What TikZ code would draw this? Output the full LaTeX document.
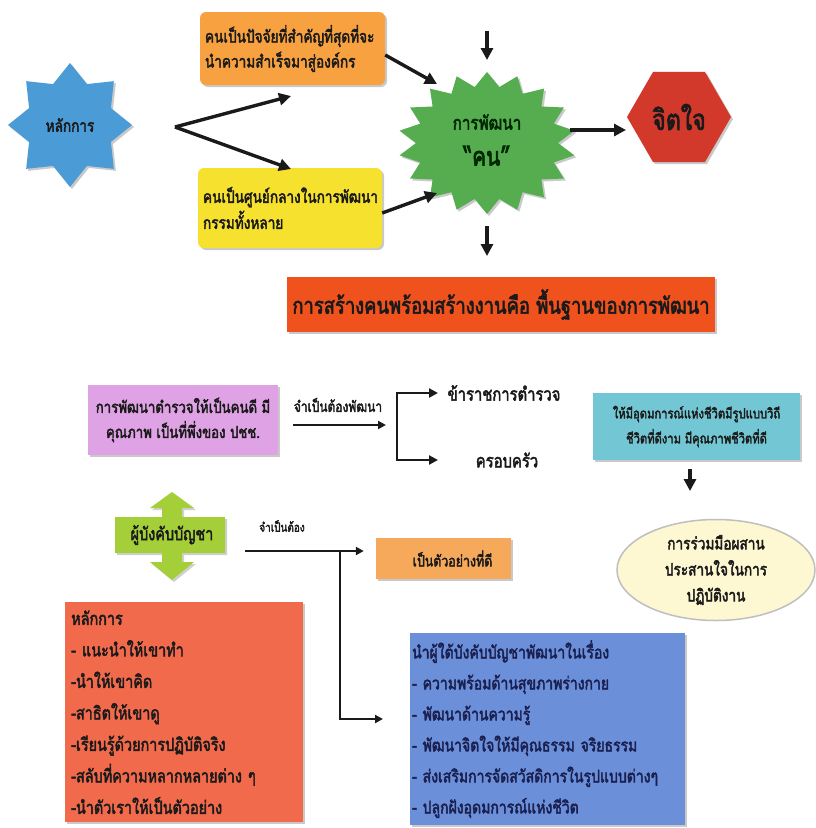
\documentclass[tikz,border=0pt]{standalone}
\usepackage{fontspec}
\setmainfont[Script=Thai,FakeStretch=0.8,BoldFont=*,BoldFeatures={FakeBold=2.5}]{Loma}
\usetikzlibrary{shapes.geometric,shadows,arrows.meta,calc}
\definecolor{cBlueStar}{HTML}{4B9BD6}
\definecolor{cOrange}{HTML}{F7A141}
\definecolor{cYellow}{HTML}{F6E12F}
\definecolor{cGreenStar}{HTML}{55AD4F}
\definecolor{cHex}{HTML}{D2392B}
\definecolor{cBar}{HTML}{F0521E}
\definecolor{cPurple}{HTML}{DFA2E4}
\definecolor{cCyan}{HTML}{73C6D3}
\definecolor{cCream}{HTML}{FDF8D2}
\definecolor{cLime}{HTML}{A5CF38}
\definecolor{cOrange2}{HTML}{F6A95B}
\definecolor{cRed}{HTML}{F26A4C}
\definecolor{cBlue}{HTML}{6B8FD9}
\definecolor{cInk}{HTML}{1A1A1A}
\definecolor{cNavy}{HTML}{1A2050}
\newcommand{\fsz}[2]{\fontsize{#1}{#2}\selectfont}
\begin{document}
\begin{tikzpicture}[x=1pt,y=-1pt,
  every node/.style={font=\bfseries, text=cInk},
  arr/.style={-{Triangle[length=12pt,width=12pt]}, line width=3.4pt, draw=cInk},
  arrs/.style={-{Triangle[length=8pt,width=8pt]}, line width=2.2pt, draw=cInk},
  shadowed/.style={drop shadow={shadow xshift=2pt,shadow yshift=-2pt,opacity=.35,fill=black!60}},
  rbox/.style={rectangle, rounded corners=6pt, shadowed, inner sep=5pt, align=left},
  sbox/.style={rectangle, shadowed, inner sep=4pt},
]
\useasboundingbox[fill=white] (0,0) rectangle (815,828);

% ---------- top part ----------
\node[star, star points=8, star point ratio=1.4, minimum size=124pt, fill=cBlueStar, shadowed,
      font=\bfseries\fsz{17}{20}] (bstar) at (70,125) {หลักการ};

\node[rbox, fill=cOrange, minimum width=185pt, minimum height=73pt, text width=175pt,
      font=\bfseries\fsz{17}{25}] (orange) at (292.5,48.5)
      {คนเป็นปัจจัยที่สำคัญที่สุดที่จะ\\นำความสำเร็จมาสู่องค์กร};

\node[rbox, fill=cYellow, minimum width=184pt, minimum height=80pt, text width=174pt,
      font=\bfseries\fsz{17}{26}] (yellow) at (290,208)
      {คนเป็นศูนย์กลางในการพัฒนา\\กรรมทั้งหลาย};

\node[star, star points=18, star point ratio=1.25, minimum size=142pt, xscale=1.25, transform shape,
      fill=cGreenStar, shadowed] (gstar) at (487,143) {};
\node[align=center, font=\bfseries\fsz{19}{36}, text=black!85!green] (gtext) at (487,140)
      {การพัฒนา\\{\fsz{26}{36}“คน”}};

\node[regular polygon, regular polygon sides=6, minimum size=104pt, inner sep=0pt, fill=cHex, shadowed,
      font=\bfseries\fsz{29}{31}] (hex) at (679,117) {จิตใจ};

\node[sbox, fill=cBar, minimum width=428pt, minimum height=55pt,
      font=\bfseries\fsz{23}{25}] (bar) at (501,304.5) {การสร้างคนพร้อมสร้างงานคือ พื้นฐานของการพัฒนา};

\coordinate (split) at (175,127);
\coordinate (oin) at (291,96);
\coordinate (yin) at (291,169);
\coordinate (topA) at (487,31);
\coordinate (topB) at (487,60);
\coordinate (botA) at (487,226);
\coordinate (botB) at (487,256);
\coordinate (gin1) at (437,84);
\coordinate (gin2) at (437,193);
\coordinate (gout) at (570,130);
\coordinate (hin) at (626,130);

\draw[arr] (split) -- (oin);
\draw[arr] (split) -- (yin);
\draw[arr] (orange.east |- 0,55) -- (gin1);
\draw[arr] (yellow.east |- 0,213) -- (gin2);
\draw[arr] (topA) -- (topB);
\draw[arr] (botA) -- (botB);
\draw[arr] (gout) -- (hin);

% ---------- bottom part ----------
\node[sbox, fill=cPurple, minimum width=190pt, minimum height=70pt, align=center,
      font=\bfseries\fsz{16.5}{25}] (purple) at (183,420)
      {การพัฒนาตำรวจให้เป็นคนดี มี\\คุณภาพ เป็นที่พึ่งของ ปชช.};
\node[font=\bfseries\fsz{15}{17}] (lab1) at (338,405) {จำเป็นต้องพัฒนา};
\coordinate (brk) at (386,425);
\draw[arrs] ($(purple.east |- 0,425)+(15,0)$) -- (brk);

\node[font=\bfseries\fsz{18.5}{20}] (police) at (504,393) {ข้าราชการตำรวจ};
\node[font=\bfseries\fsz{18.5}{20}] (family) at (507,460) {ครอบครัว};
\draw[{Triangle[length=9pt,width=9pt]}-{Triangle[length=9pt,width=9pt]}, line width=2.4pt, draw=cInk]
  (438,393) -- (397,393) -- (397,460) -- (438,460);

\node[sbox, fill=cCyan, minimum width=207pt, minimum height=67pt, align=center,
      font=\bfseries\fsz{14}{25}] (cyan) at (696.5,426.5)
      {ให้มีอุดมการณ์แห่งชีวิตมีรูปแบบวิถี\\ชีวิตที่ดีงาม มีคุณภาพชีวิตที่ดี};

\node[ellipse, fill=cCream, draw=black!25, line width=1.5pt, minimum width=198pt, minimum height=101pt,
      align=center, font=\bfseries\fsz{17}{26}, inner sep=0pt] (ell) at (716,570)
      {การร่วมมือผสาน\\ประสานใจในการ\\ปฏิบัติงาน};
\draw[arr] (690,469) -- (690,491);

% green double arrow
\fill[cLime, drop shadow={shadow xshift=2pt,shadow yshift=-2pt,opacity=.3,fill=black!60}]
  (115,517) -- (162,517) -- (162,508) -- (150,508) -- (172,492) -- (194,508) -- (182,508) -- (182,517)
  -- (225,517) -- (225,553) -- (182,553) -- (182,562) -- (194,562) -- (172,580) -- (150,562)
  -- (162,562) -- (162,553) -- (115,553) -- cycle;
\node[font=\bfseries\fsz{18}{20}] (chief) at (172,535) {ผู้บังคับบัญชา};
\node[font=\bfseries\fsz{12.5}{14}] (lab2) at (282,526) {จำเป็นต้อง};

\node[sbox, fill=cOrange2, minimum width=135pt, minimum height=41pt,
      font=\bfseries\fsz{15.5}{17}] (model) at (443.5,558.5) {\hspace*{18pt}เป็นตัวอย่างที่ดี};

\node[sbox, fill=cRed, minimum width=238pt, minimum height=220pt, text width=226pt, align=left,
      anchor=north west, font=\bfseries\fsz{18}{31.5}, inner sep=6pt] (redbox) at (65,602)
      {หลักการ\\- แนะนำให้เขาทำ\\-นำให้เขาคิด\\-สาธิตให้เขาดู\\-เรียนรู้ด้วยการปฏิบัติจริง\\-สลับที่ความหลากหลายต่าง ๆ\\-นำตัวเราให้เป็นตัวอย่าง};

\node[sbox, fill=cBlue, minimum width=275pt, minimum height=192pt, text width=271pt, align=left,
      anchor=north west, font=\bfseries\fsz{17.5}{31}, text=cNavy, inner sep=2pt] (bluebox) at (410,633)
      {นำผู้ใต้บังคับบัญชาพัฒนาในเรื่อง\\- ความพร้อมด้านสุขภาพร่างกาย\\- พัฒนาด้านความรู้\\- พัฒนาจิตใจให้มีคุณธรรม จริยธรรม\\- ส่งเสริมการจัดสวัสดิการในรูปแบบต่างๆ\\- ปลูกฝังอุดมการณ์แห่งชีวิต};

\coordinate (jn) at (340,551);
\draw[arrs] (245,551) -- ($(model.west |- 0,551)+(-12,0)$);
\draw[arrs] (jn) -- (340,719) -- ($(bluebox.west |- 0,719)+(-27,0)$);
\end{tikzpicture}
\end{document}
